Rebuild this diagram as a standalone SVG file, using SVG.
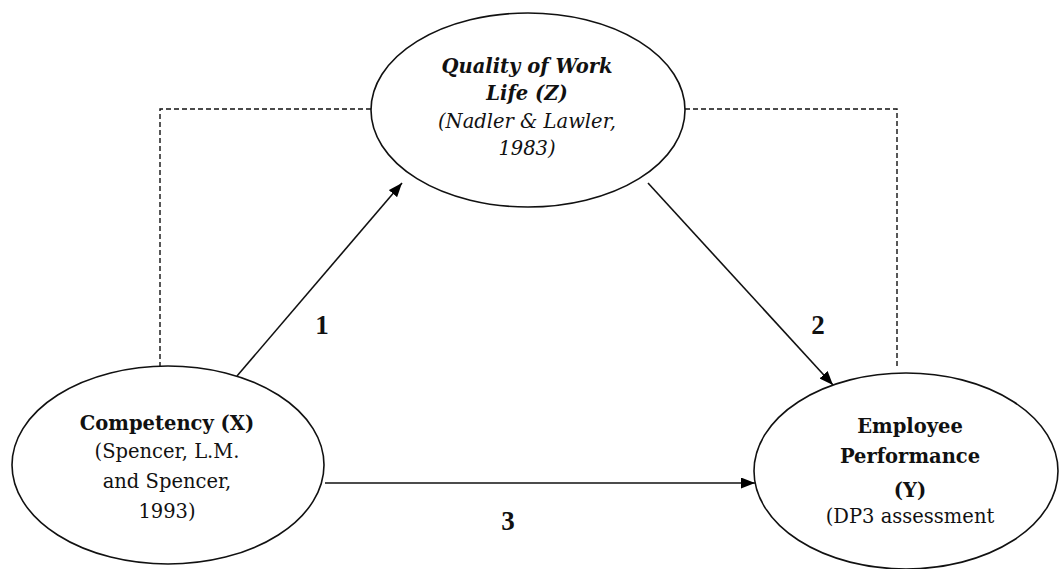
<svg xmlns="http://www.w3.org/2000/svg" width="1061" height="569" viewBox="0 0 1061 569">
<defs>
<marker id="ah" viewBox="0 0 10 10" refX="10" refY="5" markerWidth="14" markerHeight="11" markerUnits="userSpaceOnUse" orient="auto" preserveAspectRatio="none"><path d="M0,0 L10,5 L0,10 z" fill="#000"/></marker>
<style>
.node ellipse{fill:#fff;stroke:#111;stroke-width:1.6}
.t{font-family:"DejaVu Serif","Liberation Serif",serif;font-size:19.5px;fill:#111;text-anchor:middle}
.b{font-weight:bold}
.i{font-style:italic}
.conn line{stroke:#111;stroke-width:1.6}
.dash{fill:none;stroke:#111;stroke-width:1.4;stroke-dasharray:5 3}
.lab{font-family:"Liberation Serif",serif;font-weight:bold;font-size:27px;fill:#111;text-anchor:middle}
</style>
</defs>
<rect width="1061" height="569" fill="#fff"/>
<g id="connectors" class="conn">
<path class="dash" d="M160,367 L160,109 L371,109"/>
<path class="dash" d="M685,109 L897,109 L897,367"/>
<line x1="237" y1="376" x2="402" y2="183" marker-end="url(#ah)"/>
<line x1="648" y1="183" x2="833" y2="385" marker-end="url(#ah)"/>
<line x1="325" y1="483" x2="755" y2="483" marker-end="url(#ah)"/>
<text class="lab" x="322" y="334">1</text>
<text class="lab" x="818" y="334">2</text>
<text class="lab" x="508" y="530">3</text>
</g>
<g id="node-z" class="node">
<ellipse cx="528" cy="110" rx="157" ry="97"/>
<text class="t b i" x="527" y="73">Quality of Work</text>
<text class="t b i" x="527" y="100">Life (Z)</text>
<text class="t i" x="527" y="128">(Nadler &amp; Lawler,</text>
<text class="t i" x="527" y="155">1983)</text>
</g>
<g id="node-x" class="node">
<ellipse cx="168" cy="465" rx="156" ry="99"/>
<text class="t b" x="167" y="430">Competency (X)</text>
<text class="t" x="167" y="458">(Spencer, L.M.</text>
<text class="t" x="167" y="488">and Spencer,</text>
<text class="t" x="167" y="518">1993)</text>
</g>
<g id="node-y" class="node">
<ellipse cx="906" cy="471" rx="152" ry="98"/>
<text class="t b" x="910" y="433">Employee</text>
<text class="t b" x="910" y="463">Performance</text>
<text class="t b" x="910" y="497">(Y)</text>
<text class="t" x="910" y="523">(DP3 assessment</text>
</g>
</svg>
